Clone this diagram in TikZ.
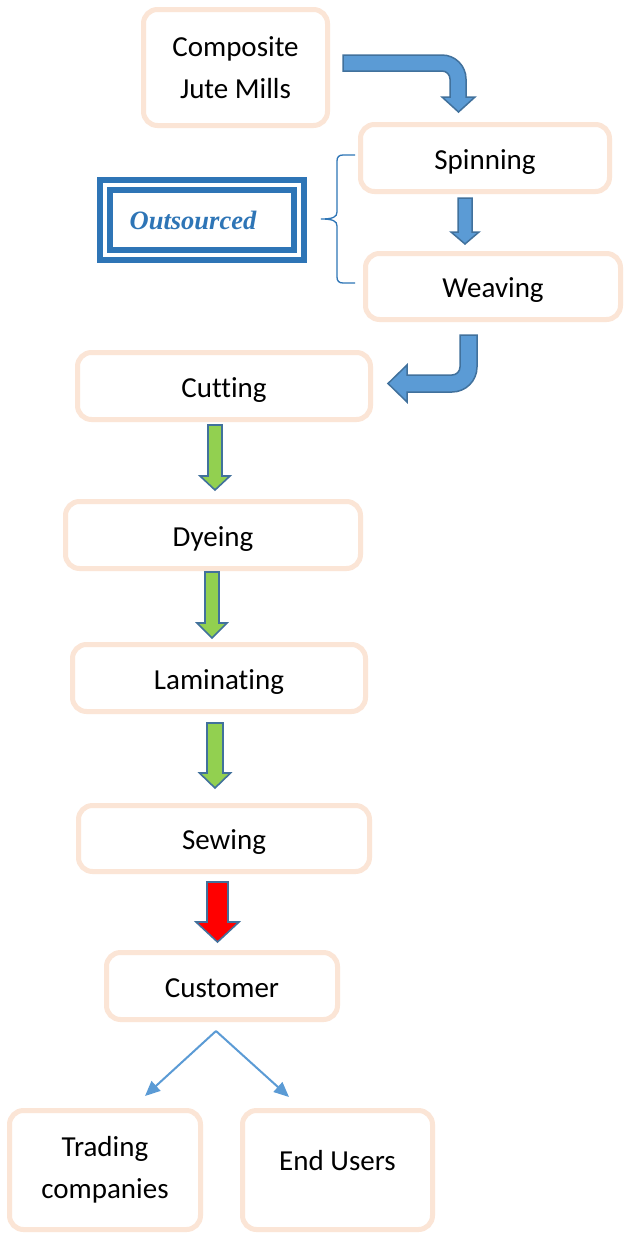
\documentclass[tikz,border=0pt]{standalone}
\usepackage{fontspec}
\setmainfont{Carlito}[Ligatures=NoCommon]
\newfontfamily\outfont{Liberation Serif}
\usetikzlibrary{arrows.meta}
\definecolor{peach}{HTML}{FBE5D6}
\definecolor{bluefill}{HTML}{5B9BD5}
\definecolor{blueedge}{HTML}{41719C}
\definecolor{outblue}{HTML}{2E75B6}
\definecolor{greenfill}{HTML}{92D050}
\newcommand{\vblock}[7]{%
  \draw[#1] ({#2-#5},#3) -- ({#2+#5},#3) -- ({#2+#5},{#4-#7}) -- ({#2+#6},{#4-#7})
    -- (#2,#4) -- ({#2-#6},{#4-#7}) -- ({#2-#5},{#4-#7}) -- cycle;}
\begin{document}
\begin{tikzpicture}[x=1pt,y=-1pt,
  stepbox/.style={draw=peach, line width=5pt, rounded corners=14pt, fill=white,
    inner sep=0pt, font=\fontsize{29}{42}\selectfont, align=center},
  oneline/.style={text height=22pt, text depth=0pt},
  bluearrow/.style={fill=bluefill, draw=blueedge, line width=1.5pt, line join=miter},
  greenarrow/.style={fill=greenfill, draw=blueedge, line width=1.6pt, line join=miter},
  redarrow/.style={fill=red, draw=blueedge, line width=1.6pt, line join=miter},
  outbox/.style={draw=outblue, double=white, double distance=4pt, line width=6pt,
    minimum width=194pt, minimum height=70pt, inner sep=0pt,
    font=\outfont\bfseries\itshape\fontsize{26.5}{32}\selectfont, text=outblue},
  bracestyle/.style={draw=outblue, line width=1.3pt},
  forkline/.style={draw=bluefill, line width=2pt, -{Triangle[length=15pt,width=13pt]}}
]
\useasboundingbox (0,0) rectangle (625,1235);
\fill[white] (0,0) rectangle (625,1235);

% process boxes
\node[stepbox, minimum width=184pt, minimum height=116pt] (comp) at (235.5,67.5) {Composite\\Jute Mills};
\node[stepbox, oneline, minimum width=249pt, minimum height=67pt] (spin) at (485,158) {Spinning};
\node[stepbox, oneline, minimum width=255pt, minimum height=66pt] (weav) at (493,286.5) {Weaving};
\node[stepbox, oneline, minimum width=293pt, minimum height=67pt] (cut) at (224,386) {Cutting};
\node[stepbox, oneline, minimum width=295pt, minimum height=67pt] (dye) at (213,535) {Dyeing};
\node[stepbox, oneline, minimum width=293pt, minimum height=67pt] (lam) at (219,678) {Laminating};
\node[stepbox, oneline, minimum width=291pt, minimum height=66pt] (sew) at (224,838.5) {Sewing};
\node[stepbox, oneline, minimum width=231pt, minimum height=67pt] (cust) at (222,986) {Customer};
\node[stepbox, minimum width=191pt, minimum height=119pt] (trad) at (105,1170) {Trading\\companies};
\node[stepbox, oneline, minimum width=190pt, minimum height=119pt] (endu) at (337.5,1170) {\raisebox{11pt}{End Users}};

% outsourced double box
\node[outbox] (out) at (202,220) {Outsourced\hspace*{18pt}};

% brace
\draw[bracestyle] (355,155) -- (343,155) .. controls (339,155) and (337,157) .. (337,161)
  -- (337,212) .. controls (337,217) and (333,219) .. (321,219)
  .. controls (333,219) and (337,221) .. (337,226)
  -- (337,277) .. controls (337,281) and (339,283) .. (343,283) -- (355,283);

% bent arrow: composite -> spinning
\draw[bluearrow] (343,55) -- (442,55) arc[start angle=90,end angle=0,radius=24pt]
  -- (466,97) -- (475,97) -- (458.5,112) -- (442,97) -- (450,97) -- (450,79)
  arc[start angle=0,end angle=90,radius=8pt] -- (343,71) -- cycle;

% spinning -> weaving
\vblock{bluearrow}{465}{198}{244}{7}{14}{12}

% bent arrow: weaving -> cutting
\draw[bluearrow] (460,335) -- (477,335) -- (477,367) arc[start angle=0,end angle=-90,radius=25pt]
  -- (407,392) -- (407,402) -- (388,383.5) -- (407,365) -- (407,375) -- (452,375)
  arc[start angle=-90,end angle=0,radius=8pt] -- cycle;

% green arrows
\vblock{greenarrow}{215}{425}{490}{7}{15}{14}
\vblock{greenarrow}{212}{572}{638}{7}{15}{15}
\vblock{greenarrow}{215}{723}{788}{8}{15.5}{15}

% red arrow
\vblock{redarrow}{217.5}{882}{942}{10.5}{21.5}{20}

% fork to customers
\coordinate (fork) at (216,1031);
\coordinate (tradin) at (145,1096);
\coordinate (endin) at (289,1097);
\draw[forkline] (fork) -- (tradin);
\draw[forkline] (fork) -- (endin);
\end{tikzpicture}
\end{document}
